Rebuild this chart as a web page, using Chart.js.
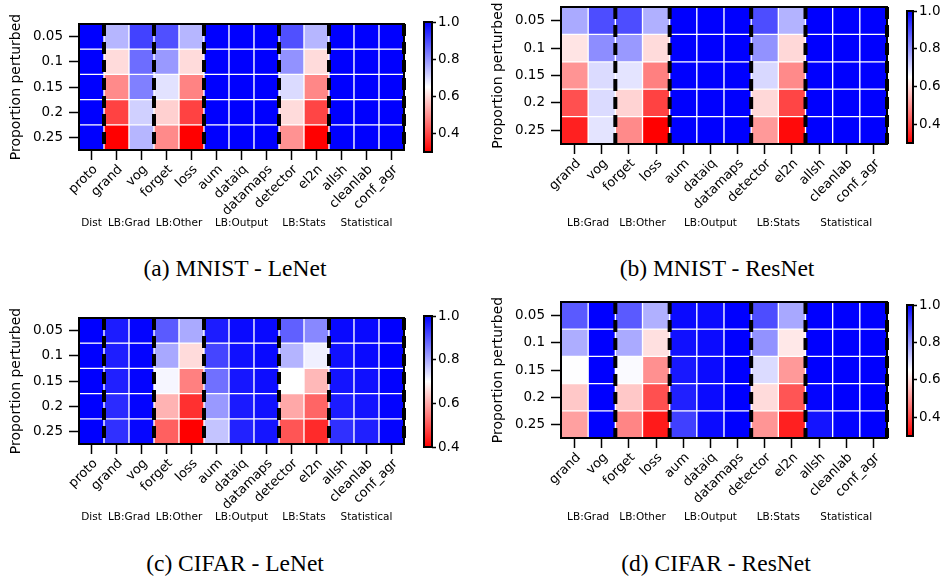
<!DOCTYPE html>
<html><head><meta charset="utf-8">
<script src="https://cdn.jsdelivr.net/npm/chart.js@4/dist/chart.umd.min.js"></script>
<style>
body{margin:0;background:#fff;width:945px;height:580px;position:relative;overflow:hidden;}
canvas{position:absolute;}
.cap{position:absolute;font-family:'Liberation Serif','Times New Roman',serif;font-size:23.5px;color:#000;transform:translate(-50%,-50%);white-space:nowrap;}
</style></head><body>
<canvas id="ha" width="420" height="240" style="left:0;top:0"></canvas>
<canvas id="hb" width="430" height="240" style="left:470px;top:0"></canvas>
<canvas id="hc" width="420" height="240" style="left:0;top:290px"></canvas>
<canvas id="hd" width="430" height="240" style="left:470px;top:290px"></canvas>
<canvas id="ca" width="55" height="170" style="left:415px;top:0"></canvas>
<canvas id="cb" width="47" height="160" style="left:898px;top:0"></canvas>
<canvas id="cc" width="55" height="170" style="left:415px;top:290px"></canvas>
<canvas id="cd" width="47" height="160" style="left:898px;top:290px"></canvas>
<div class="cap" style="left:235px;top:268px">(a) MNIST - LeNet</div>
<div class="cap" style="left:717px;top:268px">(b) MNIST - ResNet</div>
<div class="cap" style="left:235px;top:563px">(c) CIFAR - LeNet</div>
<div class="cap" style="left:716px;top:563px">(d) CIFAR - ResNet</div>
<script>
// ---------- data ----------
const rowLabels = ['0.05', '0.1', '0.15', '0.2', '0.25'];
const methodsDist = ['proto', 'grand', 'vog', 'forget', 'loss', 'aum', 'dataiq', 'datamaps', 'detector', 'el2n', 'allsh', 'cleanlab', 'conf_agr'];
const methodsNoDist = ['grand', 'vog', 'forget', 'loss', 'aum', 'dataiq', 'datamaps', 'detector', 'el2n', 'allsh', 'cleanlab', 'conf_agr'];
const groupNamesDist = ['Dist', 'LB:Grad', 'LB:Other', 'LB:Output', 'LB:Stats', 'Statistical'];
const groupSizesDist = [1, 2, 2, 3, 2, 3];
const groupNamesNoDist = ['LB:Grad', 'LB:Other', 'LB:Output', 'LB:Stats', 'Statistical'];
const groupSizesNoDist = [2, 2, 3, 2, 3];
const colorbarTicks = [0.4, 0.6, 0.8, 1.0];

const rangeMnistLeNet = [0.3, 1.0];
const rangeMnistResNet = [0.3, 1.0];
const rangeCifarLeNet = [0.4, 1.0];
const rangeCifarResNet = [0.3, 1.0];

// rows: 0.05 .. 0.25
const mnistLeNet = [
  [1.0, 0.75, 0.91, 0.89, 0.75, 1.0, 1.0, 1.0, 0.89, 0.75, 1.0, 1.0, 1.0],
  [1.0, 0.60, 0.85, 0.79, 0.60, 1.0, 1.0, 1.0, 0.80, 0.60, 1.0, 1.0, 1.0],
  [1.0, 0.49, 0.825, 0.69, 0.48, 1.0, 1.0, 1.0, 0.70, 0.485, 1.0, 1.0, 1.0],
  [1.0, 0.39, 0.715, 0.585, 0.39, 1.0, 1.0, 1.0, 0.60, 0.395, 1.0, 1.0, 1.0],
  [1.0, 0.30, 0.75, 0.49, 0.30, 1.0, 1.0, 1.0, 0.50, 0.30, 1.0, 1.0, 1.0]
];
const mnistResNet = [
  [0.767, 0.895, 0.895, 0.758, 1.0, 1.0, 1.0, 0.895, 0.755, 1.0, 1.0, 1.0],
  [0.613, 0.807, 0.79, 0.60, 1.0, 1.0, 1.0, 0.80, 0.597, 1.0, 1.0, 1.0],
  [0.503, 0.70, 0.687, 0.475, 1.0, 1.0, 1.0, 0.703, 0.489, 1.0, 1.0, 1.0],
  [0.41, 0.70, 0.59, 0.39, 1.0, 1.0, 1.0, 0.597, 0.395, 1.0, 1.0, 1.0],
  [0.344, 0.687, 0.49, 0.30, 1.0, 1.0, 1.0, 0.51, 0.314, 1.0, 1.0, 1.0]
];
const cifarLeNet = [
  [1.0, 0.967, 0.995, 0.894, 0.80, 0.967, 0.988, 0.99, 0.887, 0.84, 0.99, 0.99, 1.0],
  [1.0, 0.965, 0.995, 0.802, 0.658, 0.919, 0.981, 0.99, 0.788, 0.718, 0.98, 0.988, 1.0],
  [1.0, 0.962, 0.995, 0.711, 0.55, 0.868, 0.974, 0.985, 0.70, 0.616, 0.977, 0.981, 0.998],
  [1.0, 0.95, 0.995, 0.61, 0.457, 0.82, 0.97, 0.98, 0.598, 0.519, 0.967, 0.977, 0.997],
  [1.0, 0.943, 0.993, 0.513, 0.40, 0.769, 0.96, 0.975, 0.50, 0.45, 0.943, 0.962, 0.995]
];
const cifarResNet = [
  [0.876, 1.0, 0.876, 0.758, 0.986, 0.985, 1.0, 0.895, 0.77, 1.0, 1.0, 1.0],
  [0.762, 1.0, 0.767, 0.608, 0.978, 0.985, 1.0, 0.80, 0.618, 1.0, 1.0, 1.0],
  [0.652, 1.0, 0.657, 0.497, 0.967, 0.985, 1.0, 0.70, 0.51, 1.0, 1.0, 1.0],
  [0.574, 1.0, 0.574, 0.41, 0.956, 0.985, 1.0, 0.60, 0.417, 0.995, 1.0, 1.0],
  [0.52, 1.0, 0.482, 0.335, 0.9125, 0.985, 1.0, 0.504, 0.344, 0.972, 0.995, 1.0]
];

// ---------- helpers ----------
Chart.defaults.font.family = "'DejaVu Sans', sans-serif";
Chart.defaults.color = '#000';

function bwrR(v, lo, hi) {
  let t = (v - lo) / (hi - lo);
  t = Math.max(0, Math.min(1, t));
  let r, g, b;
  if (t < 0.5) { r = 1; g = b = 2 * t; } else { r = g = 2 - 2 * t; b = 1; }
  return 'rgb(' + Math.round(r * 255) + ',' + Math.round(g * 255) + ',' + Math.round(b * 255) + ')';
}

function noPad(s) { s.paddingTop = 0; s.paddingBottom = 0; s.paddingLeft = 0; s.paddingRight = 0; }

const heatDeco = {
  id: 'heatDeco',
  afterDatasetsDraw(chart, args, opts) {
    const ctx = chart.ctx, a = chart.chartArea, x = chart.scales.x;
    const n = chart.data.labels.length;
    const cw = (a.right - a.left) / n;
    ctx.save();
    ctx.strokeStyle = '#000';
    ctx.lineWidth = 2;
    ctx.strokeRect(a.left, a.top, a.right - a.left, a.bottom - a.top);
    ctx.lineWidth = 4;
    ctx.setLineDash([12, 6]);
    let idx = 0;
    opts.groupSizes.forEach(sz => {
      idx += sz;
      const px = x.getPixelForValue(idx - 1) + cw / 2;
      ctx.beginPath();
      ctx.moveTo(px, a.top);
      ctx.lineTo(px, a.bottom);
      ctx.stroke();
    });
    ctx.restore();
  },
  afterDraw(chart, args, opts) {
    const ctx = chart.ctx, x = chart.scales.x;
    ctx.save();
    ctx.font = "10.5px 'DejaVu Sans'";
    ctx.fillStyle = '#000';
    ctx.textAlign = 'center';
    ctx.textBaseline = 'middle';
    let start = 0;
    opts.groupSizes.forEach((sz, g) => {
      const px = (x.getPixelForValue(start) + x.getPixelForValue(start + sz - 1)) / 2;
      ctx.fillText(opts.groupNames[g], px, opts.labelY);
      start += sz;
    });
    ctx.restore();
  }
};

function heatmap(id, methods, values, range, groupNames, groupSizes, geo) {
  const datasets = values.map((row, r) => ({
    label: rowLabels[r],
    data: row.map(() => 1),
    backgroundColor: row.map(v => bwrR(v, range[0], range[1])),
    borderColor: '#ffffff',
    borderWidth: 1,
    borderSkipped: false,
    categoryPercentage: 1,
    barPercentage: 1
  }));
  return new Chart(document.getElementById(id), {
    type: 'bar',
    data: { labels: methods, datasets: datasets },
    options: {
      responsive: false,
      animation: false,
      events: [],
      layout: { padding: { top: geo.top, right: geo.right, left: 0, bottom: 0 } },
      plugins: {
        legend: { display: false },
        tooltip: { enabled: false },
        heatDeco: { groupNames: groupNames, groupSizes: groupSizes, labelY: geo.groupY }
      },
      scales: {
        x: {
          stacked: true,
          offset: true,
          grid: { offset: false, drawOnChartArea: false, color: '#000', tickLength: 10, tickWidth: 1.5 },
          border: { display: false },
          ticks: { autoSkip: false, minRotation: 45, maxRotation: 45, padding: 2, labelOffset: 4, color: '#000', font: { size: 13 } },
          afterFit: s => { s.height = geo.xh; noPad(s); }
        },
        y: {
          stacked: true,
          reverse: true,
          min: 0,
          max: rowLabels.length,
          afterBuildTicks: s => { s.ticks = rowLabels.map((_, i) => ({ value: i + 0.5 })); },
          ticks: { callback: (v, i) => rowLabels[i], padding: 6, color: '#000', font: { size: 13.5 } },
          grid: { drawOnChartArea: false, color: '#000', tickLength: 10, tickWidth: 1.5 },
          border: { display: false },
          title: { display: true, text: 'Proportion perturbed', color: '#000', font: { size: 14 }, padding: { top: geo.titlePad, bottom: 0 } },
          afterFit: s => { s.width = geo.yw; noPad(s); }
        }
      }
    },
    plugins: [heatDeco]
  });
}

function colorbar(id, range, geo) {
  return new Chart(document.getElementById(id), {
    type: 'bar',
    data: {
      labels: [''],
      datasets: [{
        data: [range],
        backgroundColor: c => {
          const ch = c.chart, a = ch.chartArea;
          if (!a) return 'rgba(0,0,0,0)';
          const g = ch.ctx.createLinearGradient(0, a.bottom, 0, a.top);
          [0, 0.25, 0.5, 0.75, 1].forEach(s => g.addColorStop(s, bwrR(range[0] + (range[1] - range[0]) * s, range[0], range[1])));
          return g;
        },
        borderWidth: 0,
        categoryPercentage: 1,
        barPercentage: 1
      }]
    },
    options: {
      responsive: false,
      animation: false,
      events: [],
      layout: { padding: { left: geo.left, top: geo.top, bottom: geo.bottom, right: 0 } },
      plugins: { legend: { display: false }, tooltip: { enabled: false } },
      scales: {
        x: { display: false },
        y: {
          position: 'right',
          min: range[0],
          max: range[1],
          afterBuildTicks: s => { s.ticks = colorbarTicks.map(v => ({ value: v })); },
          ticks: { callback: v => Number(v).toFixed(1), padding: 2, color: '#000', font: { size: 13.5 } },
          grid: { drawOnChartArea: false, color: '#000', tickLength: 4, tickWidth: 1.5 },
          border: { display: false },
          afterFit: s => { s.width = geo.yw; noPad(s); }
        }
      }
    },
    plugins: [{
      id: 'cbBorder',
      afterDatasetsDraw(chart) {
        const ctx = chart.ctx, a = chart.chartArea;
        ctx.save();
        ctx.strokeStyle = '#000';
        ctx.lineWidth = 2;
        ctx.strokeRect(a.left, a.top, a.right - a.left, a.bottom - a.top);
        ctx.restore();
      }
    }]
  });
}

heatmap('ha', methodsDist, mnistLeNet, rangeMnistLeNet, groupNamesDist, groupSizesDist,
  { top: 24, right: 16, xh: 90, yw: 79, titlePad: 8, groupY: 223 });
heatmap('hb', methodsNoDist, mnistResNet, rangeMnistResNet, groupNamesNoDist, groupSizesNoDist,
  { top: 7, right: 13, xh: 96, yw: 91, titlePad: 20, groupY: 223 });
heatmap('hc', methodsDist, cifarLeNet, rangeCifarLeNet, groupNamesDist, groupSizesDist,
  { top: 28, right: 16, xh: 86, yw: 79, titlePad: 8, groupY: 227 });
heatmap('hd', methodsNoDist, cifarResNet, rangeCifarResNet, groupNamesNoDist, groupSizesNoDist,
  { top: 12, right: 13, xh: 92, yw: 91, titlePad: 20, groupY: 227 });

colorbar('ca', rangeMnistLeNet, { left: 9, top: 22, bottom: 18, yw: 38 });
colorbar('cb', rangeMnistResNet, { left: 9, top: 11, bottom: 17, yw: 32 });
colorbar('cc', rangeCifarLeNet, { left: 9, top: 26, bottom: 13, yw: 38 });
colorbar('cd', rangeCifarResNet, { left: 9, top: 15, bottom: 14, yw: 32 });
</script>
</body></html>
